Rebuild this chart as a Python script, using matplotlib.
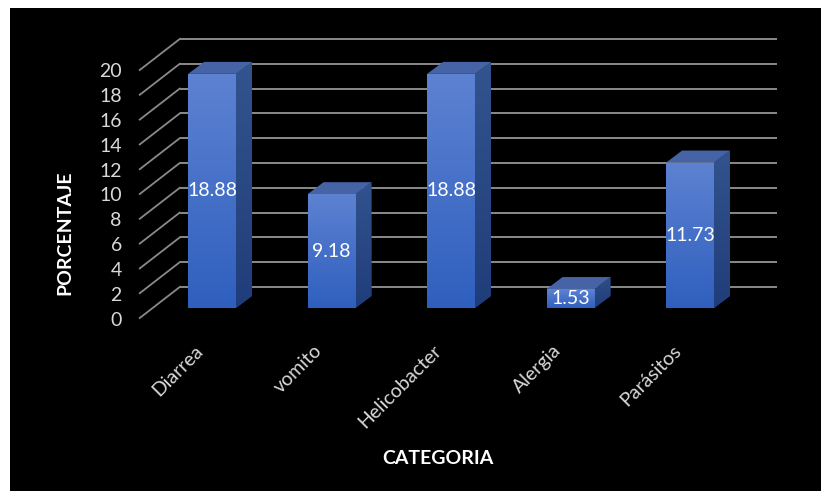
import numpy as np
import matplotlib
matplotlib.use("Agg")
import matplotlib.pyplot as plt
from matplotlib.transforms import offset_copy
from matplotlib.patches import Polygon, Rectangle
from matplotlib.colors import LinearSegmentedColormap

plt.rcParams['font.family'] = ['Lato', 'DejaVu Sans']

categories = ["Diarrea", "vomito", "Helicobacter", "Alergia", "Parásitos"]
values = [18.88, 9.18, 18.88, 1.53, 11.73]
value_labels = ["18.88", "9.18", "18.88", "1.53", "11.73"]
yticks = [0, 2, 4, 6, 8, 10, 12, 14, 16, 18, 20]
ylabel = "PORCENTAJE"
xlabel = "CATEGORIA"

W, H = 821, 491
fig = plt.figure(figsize=(W / 100, H / 100), dpi=100, facecolor="white")
fig.patches.append(Rectangle((10 / W, 0), 1 - 10 / W, (H - 8) / H,
                             transform=fig.transFigure, facecolor="black",
                             edgecolor="none", zorder=-10))

ax = fig.add_axes([152.25 / W, 183 / H, 597.5 / W, 248 / H])
ax.set_zorder(5)
ax.set_xlim(-0.5, len(categories) - 0.5)
ax.set_ylim(0, 20)
ax.axis("off")
ax.patch.set_alpha(0)

# depth offsets in pixels
front = (-12.5, -10)
back = (27.5, 21)
bdepth = (16, 12)

def off(dx, dy):
    return offset_copy(ax.transData, fig=fig, x=dx, y=dy, units="dots")

t_back = off(*back)
t_front = off(*front)

grid_col = "#8a8a8a"
x0, x1 = ax.get_xlim()
for v in yticks:
    ax.plot([x0, x1], [v, v], transform=t_back, color=grid_col, lw=1.4,
            solid_capstyle="butt", zorder=1, clip_on=False)
    # diagonal on side wall: from front plane to back plane
    p_front = t_front.transform((x0, v))
    p_back = t_back.transform((x0, v))
    ax.plot([p_front[0], p_back[0]], [p_front[1], p_back[1]], transform=None,
            color=grid_col, lw=1.3, zorder=1, clip_on=False)
    ax.text(x0, v, str(v), transform=off(front[0] - 18, front[1] - 2),
            ha="right", va="center", color="#d9d9d9", fontsize=14)

width = 0.40
cmap_front = LinearSegmentedColormap.from_list("f", ["#2f5fbe", "#5d82d2"])
cmap_side = LinearSegmentedColormap.from_list("s", ["#1f3d7a", "#34558f"])
t_depth = off(*bdepth)
grad = np.linspace(0, 1, 256).reshape(-1, 1)

for i, (c, v, lab) in enumerate(zip(categories, values, value_labels)):
    xl, xr = i - width / 2, i + width / 2
    # side face (right)
    pts = [ax.transData.transform((xr, 0)), t_depth.transform((xr, 0)),
           t_depth.transform((xr, v)), ax.transData.transform((xr, v))]
    side = Polygon(pts, closed=True, transform=None, facecolor="#2b4b8c",
                   edgecolor="none", zorder=3, clip_on=False)
    ax.add_patch(side)
    im = ax.imshow(grad, cmap=cmap_side, origin="lower", aspect="auto",
                   extent=(xr, xr + 0.2, 0, v + 2), zorder=3)
    im.set_clip_path(side)
    # top face
    ptop = [ax.transData.transform((xl, v)), ax.transData.transform((xr, v)),
            t_depth.transform((xr, v)), t_depth.transform((xl, v))]
    ax.add_patch(Polygon(ptop, closed=True, transform=None,
                         facecolor="#4663a6", edgecolor="none", zorder=4,
                         clip_on=False))
    # front face with gradient
    rect = Rectangle((xl, 0), width, v, facecolor="#3f6cc8", edgecolor="none",
                     zorder=5, clip_on=False)
    ax.add_patch(rect)
    imf = ax.imshow(grad, cmap=cmap_front, origin="lower", aspect="auto",
                    extent=(xl, xr, 0, v), zorder=5)
    imf.set_clip_path(rect)
    ax.text(i, v / 2, lab, ha="center", va="center", color="white",
            fontsize=14, zorder=6)
    ax.text(i, 0, c, transform=off(-12, -40), rotation=45,
            rotation_mode="anchor", ha="right", va="center",
            color="#d9d9d9", fontsize=14)

ax.set_xlim(-0.5, len(categories) - 0.5)
ax.set_ylim(0, 20)

fig.text(65 / W, 1 - 233 / H, ylabel, rotation=90, ha="center", va="center",
         color="white", fontsize=14, fontweight="bold")
fig.text(438 / W, 1 - 458 / H, xlabel, ha="center", va="center",
         color="white", fontsize=14, fontweight="bold")

fig.savefig("out.png", dpi=100, facecolor=fig.get_facecolor())
